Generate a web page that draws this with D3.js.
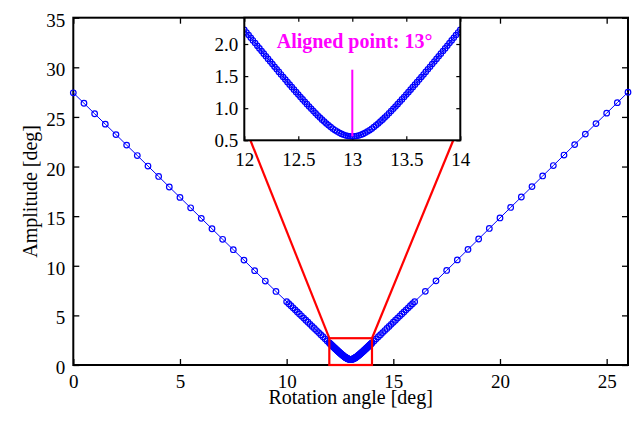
<!DOCTYPE html>
<html>
<head>
<meta charset="utf-8">
<script src="https://cdn.jsdelivr.net/npm/d3@7/dist/d3.min.js"></script>
<style>
  html, body { margin: 0; padding: 0; background: #fff; }
  svg { display: block; }
  text { font-family: "Liberation Serif", "Times New Roman", Times, serif; fill: #000; }
</style>
</head>
<body>
<svg id="chart" width="634" height="421"></svg>
<script>
// ---------------- DATA ----------------
// rotation angles (deg) of the coarse scans
const anglesCoarseLeft  = [0,0.5,1,1.5,2,2.5,3,3.5,4,4.5,5,5.5,6,6.5,7,7.5,8,8.5,9,9.5];
const anglesCoarseRight = [16.5,17,17.5,18,18.5,19,19.5,20,20.5,21,21.5,22,22.5,23,23.5,24,24.5,25,25.5,26];
// dense scans: start angle, step (deg)
const denseLeftGrid  = {start: 10,   step: 0.1};
const zoomGrid       = {start: 12,   step: 0.02};
const denseRightGrid = {start: 14.1, step: 0.1};

// amplitude (deg)
const ampCoarseLeft = [27.43,26.38,25.32,24.27,23.22,22.16,21.11,20.05,19.00,17.94,16.89,15.84,14.78,13.73,12.67,11.62,10.57,9.51,8.46,7.41];
const ampDenseLeft = [6.385,6.178,5.971,5.764,5.556,5.348,5.140,4.932,4.724,4.515,4.307,4.098,3.889,3.680,3.471,3.263,3.054,2.845,2.637,2.430];
const ampZoom = [2.222,2.180,2.139,2.097,2.056,2.014,1.973,1.932,1.891,1.850,1.809,1.768,1.727,1.687,1.646,1.606,1.566,1.526,1.486,1.446,
  1.406,1.367,1.328,1.289,1.250,1.212,1.174,1.137,1.099,1.063,1.026,0.991,0.955,0.921,0.887,0.854,0.822,0.791,0.762,0.733,
  0.706,0.681,0.657,0.636,0.617,0.600,0.586,0.575,0.567,0.562,0.560,
  0.562,0.567,0.575,0.586,0.600,0.617,0.636,0.657,0.681,0.706,0.733,0.762,0.791,0.822,0.854,0.887,0.921,0.955,0.991,
  1.026,1.063,1.099,1.137,1.174,1.212,1.250,1.289,1.328,1.367,1.406,1.446,1.486,1.526,1.566,1.606,1.646,1.687,1.727,1.768,
  1.809,1.850,1.891,1.932,1.973,2.014,2.056,2.097,2.139,2.180,2.222];
const ampDenseRight = [2.430,2.637,2.845,3.054,3.263,3.471,3.680,3.889,4.098,4.307,4.515,4.724,4.932,5.140,5.348,5.556,5.764,5.971,6.178,6.385];
const ampCoarseRight = [7.42,8.48,9.53,10.59,11.65,12.70,13.76,14.82,15.88,16.93,17.98,19.05,20.10,21.16,22.21,23.27,24.33,25.38,26.44,27.49];

const alignedAngle = 13;
const alignedLabel = "Aligned point: 13°";
const xTicksMain = [0,5,10,15,20,25];
const yTicksMain = [0,5,10,15,20,25,30,35];
const xTicksInset = [12,12.5,13,13.5,14];
const yTicksInset = [0.5,1.0,1.5,2.0];
const xLabel = "Rotation angle [deg]";
const yLabel = "Amplitude [deg]";
// zoom box (main coords) and connector anchor points (main coords)
const zoomBox = {x0: 12, x1: 14, y0: 0, y1: 2.7};
const connectorEnds = [[8.3, 22.65], [17.82, 22.7]];
const alignedLine = [0.56, 1.6];

// ---------------- BUILD ----------------
const gridPts = (g, vals) => vals.map((v, i) => ({x: +(g.start + i * g.step).toFixed(4), y: v}));
const pts = (angles, vals) => angles.map((a, i) => ({x: a, y: vals[i]}));
const zoomData = gridPts(zoomGrid, ampZoom);
const allData = [].concat(
  pts(anglesCoarseLeft, ampCoarseLeft),
  gridPts(denseLeftGrid, ampDenseLeft),
  zoomData,
  gridPts(denseRightGrid, ampDenseRight),
  pts(anglesCoarseRight, ampCoarseRight)
);

const svg = d3.select("#chart");
const BLUE = "#0000ff", RED = "#ff0000", MAG = "#ff00ff";

const M = {l: 73.3, r: 628, t: 17.7, b: 365};
const x = d3.scaleLinear().domain([0, 26]).range([M.l, M.r]);
const y = d3.scaleLinear().domain([0, 35]).range([M.b, M.t]);

// axes (ticks inward)
const gx = svg.append("g").attr("transform", `translate(0,${M.b})`)
  .call(d3.axisBottom(x).tickValues(xTicksMain).tickSize(-6).tickPadding(0));
const gy = svg.append("g").attr("transform", `translate(${M.l},0)`)
  .call(d3.axisLeft(y).tickValues(yTicksMain).tickSize(-6).tickPadding(8));
const gxt = svg.append("g").attr("transform", `translate(0,${M.t})`)
  .call(d3.axisTop(x).tickValues(xTicksMain).tickSize(-6).tickFormat(""));
const gyr = svg.append("g").attr("transform", `translate(${M.r},0)`)
  .call(d3.axisRight(y).tickValues(yTicksMain).tickSize(-6).tickFormat(""));
[gx, gy, gxt, gyr].forEach(g => {
  g.select(".domain").remove();
  g.selectAll(".tick line").attr("stroke", "#000").attr("stroke-width", 1.3);
  g.selectAll("text").style("font-size", "19px").attr("fill", "#000")
    .style("font-family", '"Liberation Serif", "Times New Roman", serif');
});
gx.selectAll("text").attr("y", 22.5).attr("dy", null);
gy.selectAll("text").attr("dy", "0.45em");

svg.append("rect").attr("x", M.l).attr("y", M.t)
  .attr("width", M.r - M.l).attr("height", M.b - M.t)
  .attr("fill", "none").attr("stroke", "#000").attr("stroke-width", 2);

svg.append("text").attr("x", (M.l + M.r) / 2).attr("y", 404)
  .attr("text-anchor", "middle").style("font-size", "20px").text(xLabel);
svg.append("text").attr("transform", `translate(37,${(M.t + M.b) / 2}) rotate(-90)`)
  .attr("text-anchor", "middle").style("font-size", "20px").text(yLabel);

// main curve
const line = d3.line().x(d => x(d.x)).y(d => y(d.y));
svg.append("path").datum(allData).attr("d", line)
  .attr("fill", "none").attr("stroke", BLUE).attr("stroke-width", 1);
svg.append("g").selectAll("circle").data(allData).join("circle")
  .attr("cx", d => x(d.x)).attr("cy", d => y(d.y)).attr("r", 2.8)
  .attr("fill", "none").attr("stroke", BLUE).attr("stroke-width", 1.2);

// zoom box + connectors
svg.append("rect")
  .attr("x", x(zoomBox.x0)).attr("y", y(zoomBox.y1))
  .attr("width", x(zoomBox.x1) - x(zoomBox.x0)).attr("height", y(zoomBox.y0) - y(zoomBox.y1))
  .attr("fill", "none").attr("stroke", RED).attr("stroke-width", 2.2);
svg.append("line").attr("x1", x(zoomBox.x0)).attr("y1", y(zoomBox.y1))
  .attr("x2", x(connectorEnds[0][0])).attr("y2", y(connectorEnds[0][1]))
  .attr("stroke", RED).attr("stroke-width", 2.2);
svg.append("line").attr("x1", x(zoomBox.x1)).attr("y1", y(zoomBox.y1))
  .attr("x2", x(connectorEnds[1][0])).attr("y2", y(connectorEnds[1][1]))
  .attr("stroke", RED).attr("stroke-width", 2.2);

// ---------------- INSET ----------------
const I = {l: 244.3, r: 460.3, t: 17.7, b: 140.3};
const xi = d3.scaleLinear().domain([12, 14]).range([I.l, I.r]);
const yi = d3.scaleLinear().domain([0.5, 2.41]).range([I.b, I.t]);
const inset = svg.append("g");
inset.append("rect").attr("x", I.l).attr("y", I.t).attr("width", I.r - I.l).attr("height", I.b - I.t)
  .attr("fill", "#fff");
svg.append("defs").append("clipPath").attr("id", "insetClip")
  .append("rect").attr("x", I.l).attr("y", I.t).attr("width", I.r - I.l).attr("height", I.b - I.t);

const ix = inset.append("g").attr("transform", `translate(0,${I.b})`)
  .call(d3.axisBottom(xi).tickValues(xTicksInset).tickSize(-4).tickFormat(d => String(d)));
const iy = inset.append("g").attr("transform", `translate(${I.l},0)`)
  .call(d3.axisLeft(yi).tickValues(yTicksInset).tickSize(-4).tickPadding(6).tickFormat(d3.format(".1f")));
const ixt = inset.append("g").attr("transform", `translate(0,${I.t})`)
  .call(d3.axisTop(xi).tickValues(xTicksInset).tickSize(-4).tickFormat(""));
const iyr = inset.append("g").attr("transform", `translate(${I.r},0)`)
  .call(d3.axisRight(yi).tickValues(yTicksInset).tickSize(-4).tickFormat(""));
[ix, iy, ixt, iyr].forEach(g => {
  g.select(".domain").remove();
  g.selectAll(".tick line").attr("stroke", "#000").attr("stroke-width", 1.2);
  g.selectAll("text").style("font-size", "19px").attr("fill", "#000")
    .style("font-family", '"Liberation Serif", "Times New Roman", serif');
});
ix.selectAll("text").attr("y", 26).attr("dy", null);
iy.selectAll("text").attr("dy", "0.34em");

const plotI = inset.append("g").attr("clip-path", "url(#insetClip)");
const lineI = d3.line().x(d => xi(d.x)).y(d => yi(d.y));
plotI.append("path").datum(zoomData).attr("d", lineI)
  .attr("fill", "none").attr("stroke", BLUE).attr("stroke-width", 1);
plotI.selectAll("circle").data(zoomData).join("circle")
  .attr("cx", d => xi(d.x)).attr("cy", d => yi(d.y)).attr("r", 2.7)
  .attr("fill", "none").attr("stroke", BLUE).attr("stroke-width", 1.2);

inset.append("line").attr("x1", xi(alignedAngle)).attr("x2", xi(alignedAngle))
  .attr("y1", yi(alignedLine[0])).attr("y2", yi(alignedLine[1]))
  .attr("stroke", MAG).attr("stroke-width", 2);
inset.append("text").attr("x", xi(12.3)).attr("y", yi(1.94))
  .style("font-size", "20px").style("font-weight", "bold").attr("fill", MAG)
  .style("fill", MAG).text(alignedLabel);

inset.append("rect").attr("x", I.l).attr("y", I.t).attr("width", I.r - I.l).attr("height", I.b - I.t)
  .attr("fill", "none").attr("stroke", "#000").attr("stroke-width", 2);
</script>
</body>
</html>
